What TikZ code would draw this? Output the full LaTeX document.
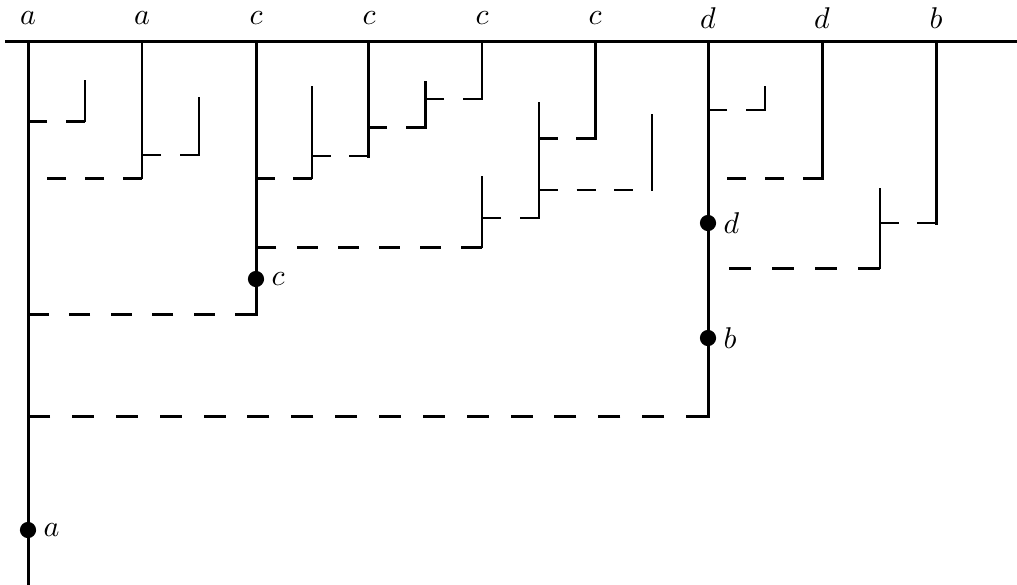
\documentclass[tikz,border=0pt]{standalone}
\begin{document}
\begin{tikzpicture}[x=0.33333pt,y=-0.33333pt,
  thk/.style={line width=1pt},
  mid/.style={line width=0.8pt},
  thn/.style={line width=0.62pt},
  vc/.style={line cap=rect},
  dsh/.style={dash pattern=on #1 off #1},
  blob/.style={circle,fill=black,inner sep=0pt,minimum size=5.4pt},
  lab/.style={anchor=west,inner sep=0pt,xshift=5pt},
  toplab/.style={inner sep=0pt}]
\useasboundingbox (0,0) rectangle (1017,584);
% top labels
\foreach \x/\l [count=\i] in {28/a,142/a,256/c,369/c,482/c,595/c,708/d,822/d,936/b}
  \node[toplab] (t\i) at (\x,18.5) {$\l$};
% base line
\coordinate (L) at (5,41.5);
\coordinate (R) at (1017,41.5);
\draw[thk] (L) -- (R);
% main verticals
\draw[thk,vc] (28,41.5) -- (28,584);
\draw[thn,vc] (142,41.5) -- (142,178);
\draw[thk,vc] (256,41.5) -- (256,314);
\draw[thk,vc] (368,41.5) -- (368,156);
\draw[thn,vc] (482,41.5) -- (482,99);
\draw[thk,vc] (595,41.5) -- (595,138);
\draw[thk,vc] (708,41.5) -- (708,416);
\draw[thk,vc] (822,41.5) -- (822,178);
\draw[thk,vc] (936,41.5) -- (936,223);
% inner verticals
\draw[mid,vc] (85,81) -- (85,121);
\draw[thn,vc] (199,98) -- (199,155);
\draw[thn,vc] (312,87) -- (312,178);
\draw[thk,vc] (425,82) -- (425,127);
\draw[thn,vc] (539,103) -- (539,218);
\draw[thn,vc] (652,115) -- (652,190);
\draw[thn,vc] (482,177) -- (482,247);
\draw[mid,vc] (765,87) -- (765,110);
\draw[thn,vc] (880,189) -- (880,268);
% dashed connections
\draw[thk,dsh=6.33pt] (85,121) -- (28,121);
\draw[thk,dsh=6.33pt] (142,178) -- (28,178);
\draw[thn,dsh=6.33pt] (199,155) -- (142,155);
\draw[thk,dsh=6.22pt] (312,178) -- (256,178);
\draw[thn,dsh=6.22pt] (368,156) -- (312,156);
\draw[thk,dsh=6.33pt] (425,127) -- (368,127);
\draw[thn,dsh=6.33pt] (482,99) -- (425,99);
\draw[thk,dsh=6.22pt] (595,138) -- (539,138);
\draw[thn,dsh=6.28pt] (539,190) -- (652,190);
\draw[thn,dsh=6.33pt] (539,218) -- (482,218);
\draw[thk,dsh=6.85pt] (482,247) -- (256,247);
\draw[mid,dsh=6.33pt] (765,110) -- (708,110);
\draw[thk,dsh=6.33pt] (822,178) -- (708,178);
\draw[thn,dsh=6.22pt] (936,223) -- (880,223);
\draw[thk,dsh=7.17pt] (880,268) -- (708,268);
\draw[thk,dsh=6.91pt] (256,314) -- (28,314);
\draw[thk,dsh=7.31pt] (708,416) -- (28,416);
% marked points
\node[blob] (pc) at (256,279) {};
\node[lab] (lc) at (pc.center) {$c$};
\node[blob] (pd) at (708,223) {};
\node[lab] (ld) at (pd.center) {$d$};
\node[blob] (pb) at (708,338) {};
\node[lab] (lb) at (pb.center) {$b$};
\node[blob] (pa) at (28,530) {};
\node[lab] (la) at (pa.center) {$a$};
\end{tikzpicture}
\end{document}
